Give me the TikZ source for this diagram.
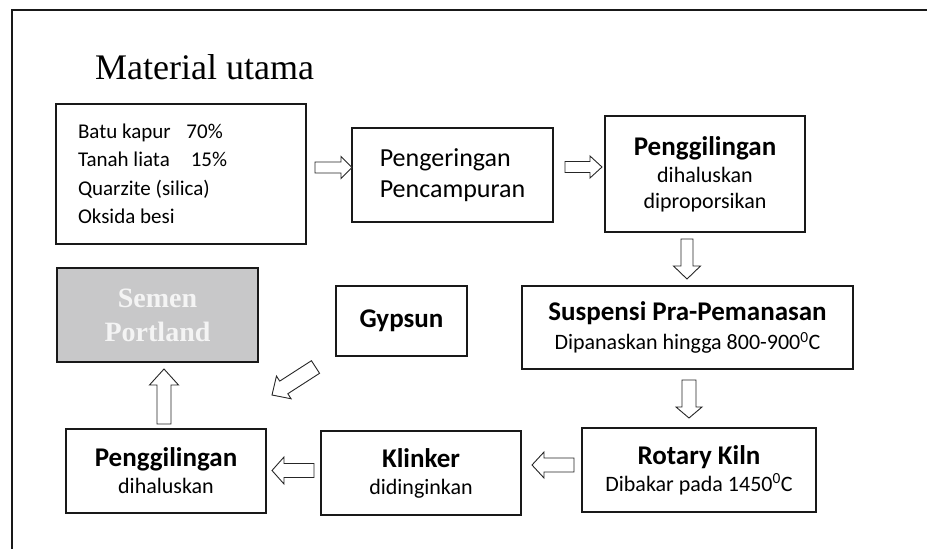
\documentclass[tikz,border=0pt]{standalone}
\usepackage{fontspec}
\setmainfont{Carlito}
\newfontfamily\serifT{Liberation Serif}
\usetikzlibrary{calc}
\definecolor{semengray}{HTML}{C8C8C9}
\definecolor{sementext}{HTML}{F4F4F4}
\newcommand\barrow[5]{%
  \path ($(#2)!#5!(#1)$) coordinate (bh);
  \draw[blockarr] ($(#1)!#3!90:(#2)$) -- ($(bh)!#3!90:(#2)$) -- ($(bh)!#4!90:(#2)$) -- (#2)
    -- ($(bh)!#4!-90:(#2)$) -- ($(bh)!#3!-90:(#2)$) -- ($(#1)!#3!-90:(#2)$) -- cycle;}
\tikzset{
  box/.style={draw=black!90, line width=1.3pt, inner sep=0pt, align=center, fill=white},
  blockarr/.style={draw=black!85, line width=0.9pt, fill=white, line join=miter},
  frameline/.style={draw=black!90, line width=1.5pt}
}
\begin{document}
\begin{tikzpicture}[x=1pt,y=-1pt]
\useasboundingbox (0,0) rectangle (927,549);
% outer frame
\coordinate (fbl) at (12,549);
\coordinate (ftl) at (12,10);
\coordinate (ftr) at (927,10);
\draw[frameline] (fbl) -- (ftl) -- (ftr);
% title
\node[anchor=base west, inner sep=0pt, font=\serifT\fontsize{36}{40}\selectfont] (title) at (95,79) {Material utama};
% boxes
\node[box, minimum width=250pt, minimum height=140pt, text width=206pt, font=\fontsize{21}{28.5}\selectfont, align=flush left] (mat) at (181,174)
  {Batu kapur\hspace{0.75em}70\%\\Tanah liata\hspace{1.0em}15\%\\Quarzite (silica)\\Oksida besi};
\node[box, minimum width=201pt, minimum height=94pt, font=\fontsize{26}{31}\selectfont, align=left] (peng) at (452.5,175)
  {Pengeringan\\Pencampuran};
\node[box, minimum width=200pt, minimum height=116pt, font=\fontsize{22}{27}\selectfont] (pg1) at (705,174)
  {{\fontsize{27}{29}\selectfont\bfseries Penggilingan}\\dihaluskan\\[-1pt]diproporsikan};
\node[box, minimum width=331pt, minimum height=83pt, font=\fontsize{22}{29}\selectfont] (susp) at (687.5,327.5)
  {{\fontsize{27}{29}\selectfont\bfseries Suspensi Pra-Pemanasan}\\Dipanaskan hingga 800-900\textsuperscript{0}C};
\node[box, minimum width=234pt, minimum height=84pt, font=\fontsize{22}{27}\selectfont] (rot) at (699,470)
  {{\fontsize{27}{29}\selectfont\bfseries Rotary Kiln}\\Dibakar pada 1450\textsuperscript{0}C};
\node[box, minimum width=200pt, minimum height=84pt, font=\fontsize{22}{27}\selectfont] (kl) at (421,473)
  {{\fontsize{27}{29}\selectfont\bfseries Klinker}\\didinginkan};
\node[box, minimum width=200pt, minimum height=84pt, font=\fontsize{22}{27}\selectfont] (pg2) at (166,471)
  {{\fontsize{27}{29}\selectfont\bfseries Penggilingan}\\dihaluskan};
\node[box, minimum width=131pt, minimum height=70pt, font=\fontsize{27}{29}\selectfont\bfseries] (gyp) at (401.5,321)
  {Gypsun};
\node[box, fill=semengray, minimum width=201pt, minimum height=94pt, text=sementext, font=\serifT\fontsize{28}{34}\selectfont\bfseries] (sem) at (157.5,315)
  {Semen\\Portland};
% arrow end points
\coordinate (a1s) at (315,167.5); \coordinate (a1e) at (352,167.5);
\coordinate (a2s) at (565,167); \coordinate (a2e) at (602,167);
\coordinate (a3s) at (687,239); \coordinate (a3e) at (687,279);
\coordinate (a4s) at (689,380); \coordinate (a4e) at (689,418);
\coordinate (a5s) at (574,465); \coordinate (a5e) at (532,465);
\coordinate (a6s) at (314,470.5); \coordinate (a6e) at (272,470.5);
\coordinate (a7s) at (164,424); \coordinate (a7e) at (164,369);
\coordinate (a8s) at (315.5,367); \coordinate (a8e) at (272,395);
\barrow{a1s}{a1e}{5.5pt}{11pt}{11pt}
\barrow{a2s}{a2e}{5.5pt}{11pt}{12pt}
\barrow{a3s}{a3e}{6pt}{13.5pt}{13pt}
\barrow{a4s}{a4e}{7pt}{13pt}{11pt}
\barrow{a5s}{a5e}{7pt}{13pt}{12pt}
\barrow{a6s}{a6e}{7pt}{13.5pt}{12pt}
\barrow{a7s}{a7e}{7pt}{14.5pt}{16pt}
\barrow{a8s}{a8e}{7.5pt}{13.5pt}{14pt}
\end{tikzpicture}
\end{document}
